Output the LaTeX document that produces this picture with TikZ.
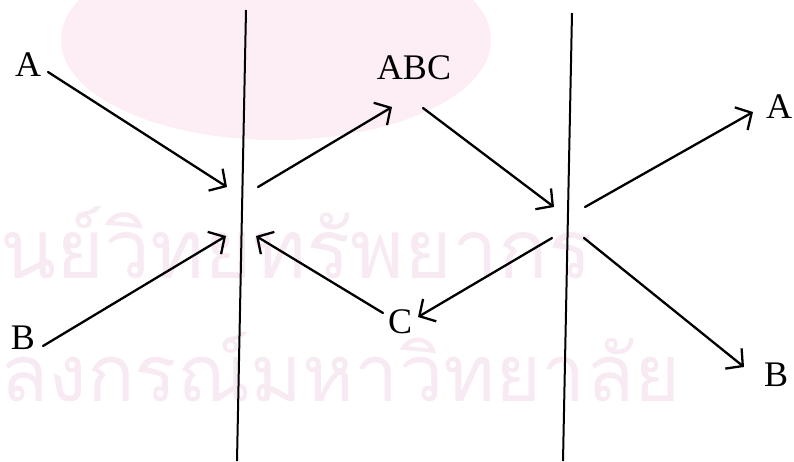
\documentclass[tikz,border=0pt]{standalone}
\usepackage{fontspec}
\setmainfont{Liberation Serif}
\newfontfamily\thaifont[Script=Thai]{Loma}
\usetikzlibrary{arrows.meta}
\definecolor{wm}{RGB}{247,234,243}
\definecolor{emb}{RGB}{252,238,244}
\begin{document}
\begin{tikzpicture}[x=1pt,y=-1pt,
  lbl/.style={font=\fontsize{36}{36}\selectfont, inner sep=3pt},
  arr/.style={-{Straight Barb[length=12pt,width=26pt]}, line width=2.3pt, line cap=round},
  wall/.style={line width=2pt},
  wmark/.style={text=wm, inner sep=0pt, anchor=base west}]
\useasboundingbox (0,0) rectangle (794,461);
% faint background watermark
\begin{scope}
  \clip (0,0) rectangle (794,461);
  \fill[emb] (276,40) ellipse [x radius=215, y radius=100];
\end{scope}
\node[wmark] (wm1) at (0,278) {\resizebox{592pt}{!}{\thaifont นย์วิทยทรัพยากร}};
\node[wmark] (wm2) at (0,401) {\resizebox{680pt}{!}{\thaifont ลงกรณ์มหาวิทยาลัย}};
% walls
\coordinate (L1t) at (246,10);
\coordinate (L1b) at (237,461);
\coordinate (L2t) at (572,13);
\coordinate (L2b) at (563,461);
\draw[wall] (L1t) -- (L1b);
\draw[wall] (L2t) -- (L2b);
% junction points
\coordinate (jLa) at (227,187);
\coordinate (jLb) at (226,236);
\coordinate (jLc) at (258,187);
\coordinate (jLd) at (256,236);
\coordinate (jRa) at (554,207);
\coordinate (jRb) at (552,238);
\coordinate (jRc) at (585,207);
\coordinate (jRd) at (584,238);
% labels
\node[lbl] (A1) at (28,65) {A};
\node[lbl] (B1) at (23,338) {B};
\node[lbl] (ABC) at (414,68) {ABC};
\node[lbl] (C) at (400,322) {C};
\node[lbl] (A2) at (779,107) {A};
\node[lbl] (B2) at (776,375) {B};
% arrows
\draw[arr] ([shift={(20,7)}]A1.center) -- (jLa);
\draw[arr] ([shift={(20,8)}]B1.center) -- (jLb);
\draw[arr] (jLc) -- ([shift={(-22,39)}]ABC.center);
\draw[arr] ([shift={(-17,-9)}]C.center) -- (jLd);
\draw[arr] ([shift={(9,40)}]ABC.center) -- (jRa);
\draw[arr] (jRb) -- ([shift={(18,-5)}]C.center);
\draw[arr] (jRc) -- ([shift={(-26,5)}]A2.center);
\draw[arr] (jRd) -- ([shift={(-32,-8)}]B2.center);
\end{tikzpicture}
\end{document}
